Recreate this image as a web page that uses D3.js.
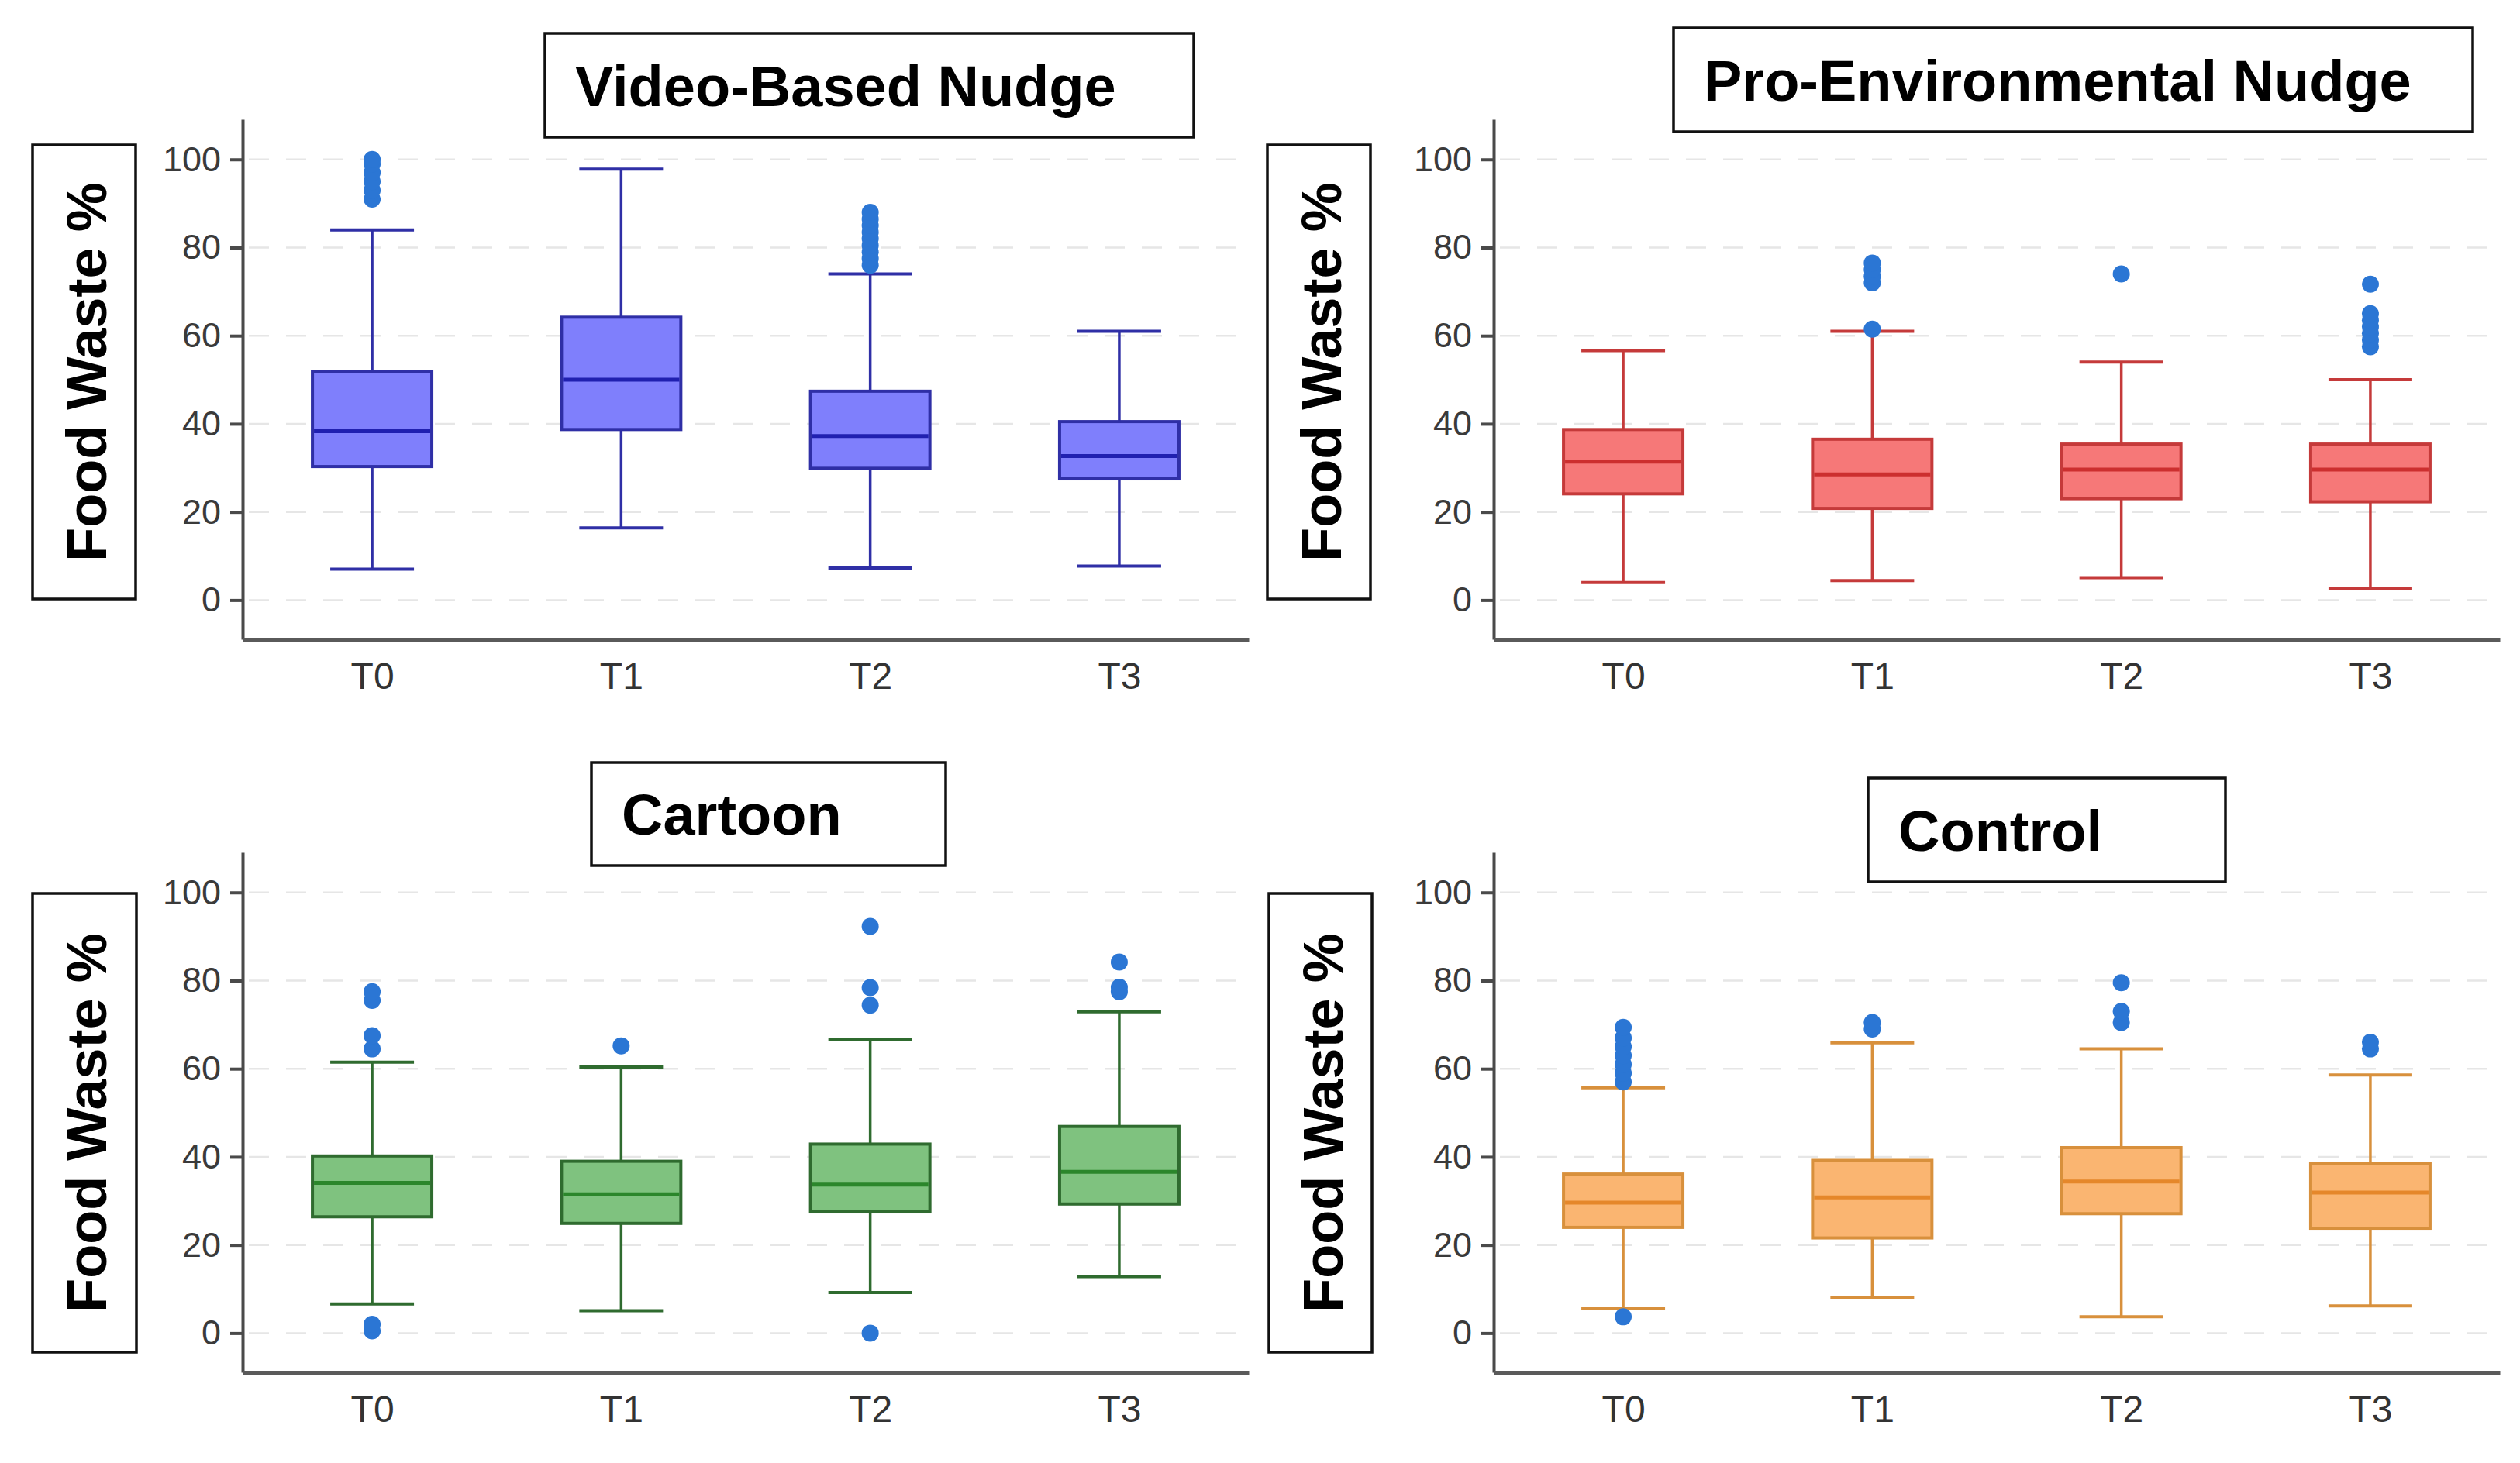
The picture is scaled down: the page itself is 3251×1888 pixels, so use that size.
<!DOCTYPE html>
<html>
<head>
<meta charset="utf-8">
<script src="https://cdn.jsdelivr.net/npm/d3@7"></script>
<style>
  body { margin: 0; background: #fff; }
  svg { display: block; }
</style>
</head>
<body>
<svg id="chart" width="3251" height="1888"></svg>
<script>
// Categories and ticks
var times = ["T0", "T1", "T2", "T3"];
var yTicks = [0, 20, 40, 60, 80, 100];
var titles = ["Video-Based Nudge", "Pro-Environmental Nudge", "Cartoon", "Control"];
var yLabel = "Food Waste %";

// Box stats per time: [lower whisker, Q1, median, Q3, upper whisker]
var videoBox = [[7, 30.3, 38.3, 51.8, 84], [16.4, 38.7, 50, 64.2, 97.8], [7.3, 29.9, 37.2, 47.4, 74], [7.7, 27.5, 32.7, 40.5, 61]];
var videoOut = [[91, 93, 95, 97, 99, 100], [], [76, 77.5, 79, 80.5, 82, 83.5, 85, 86.5, 88], []];

var proEnvBox = [[4, 24.1, 31.4, 38.7, 56.6], [4.4, 20.8, 28.5, 36.5, 61], [5.1, 23, 29.6, 35.4, 54], [2.6, 22.3, 29.6, 35.4, 50]];
var proEnvOut = [[], [61.5, 72, 73.5, 75, 76.5], [74], [57.5, 59, 60.5, 62, 63.5, 65, 71.7]];

var cartoonBox = [[6.6, 26.4, 34.1, 40.2, 61.5], [5.1, 24.9, 31.5, 39, 60.4], [9.2, 27.5, 33.7, 42.9, 66.7], [12.8, 29.3, 36.6, 46.9, 72.9]];
var cartoonOut = [[0.5, 2, 64.5, 67.5, 75.5, 77.5], [65.2], [0, 74.4, 78.4, 92.3], [77.5, 78.5, 84.2]];

var controlBox = [[5.5, 24, 29.6, 36.1, 55.7], [8.1, 21.6, 30.8, 39.2, 65.9], [3.7, 27.1, 34.4, 42.1, 64.5], [6.2, 23.8, 31.9, 38.5, 58.6]];
var controlOut = [[3.7, 57, 59, 61, 63, 65, 67, 69.4], [69, 70.5], [70.5, 73, 79.5], [64.5, 66]];

// Panel layout (pixels)
var panels = [
    { box: videoBox, out: videoOut, title: titles[0], fill: "#7f7ffc", stroke: "#2f2fa6", med: "#2020b0",
      ax: 313, ay: 154, titleBox: [703, 43, 837, 134], labelBox: [42, 187, 133, 586] },
    { box: proEnvBox, out: proEnvOut, title: titles[1], fill: "#f67878", stroke: "#c53a3a", med: "#cc2f2f",
      ax: 1927, ay: 154, titleBox: [2159, 36, 1031, 134], labelBox: [1635, 187, 133, 586] },
    { box: cartoonBox, out: cartoonOut, title: titles[2], fill: "#7fc27f", stroke: "#2f6b2f", med: "#2b862b",
      ax: 313, ay: 1100, titleBox: [763, 984, 457, 133], labelBox: [42, 1153, 134, 592] },
    { box: controlBox, out: controlOut, title: titles[3], fill: "#fab571", stroke: "#d8903c", med: "#e5872a",
      ax: 1927, ay: 1100, titleBox: [2410, 1004, 461, 134], labelBox: [1637, 1153, 133, 592] }
];

var plotW = 1298, plotH = 671;
var boxW = 154, capW = 108;
var outColor = "#2b76d4";

var svg = d3.select("#chart");

panels.forEach(function (p) {
    var g = svg.append("g").attr("transform", "translate(" + p.ax + "," + p.ay + ")");

    var x = d3.scalePoint().domain(times).range([0, plotW]).padding(0.52);
    var y = d3.scaleLinear().domain([-8.9, 109.1]).range([plotH, 0]);

    // Faint dashed gridlines
    g.append("g").selectAll("line").data(yTicks).join("line")
        .attr("x1", 8).attr("x2", plotW)
        .attr("y1", d => y(d)).attr("y2", d => y(d))
        .attr("stroke", "#e6e6e6").attr("stroke-width", 2.5)
        .attr("stroke-dasharray", "26,22");

    // Y axis (no outer ticks)
    var yAxis = g.append("g").call(d3.axisLeft(y).tickValues(yTicks).tickSizeInner(16).tickSizeOuter(0).tickPadding(12));
    yAxis.select(".domain").attr("stroke", "#4a4a4a").attr("stroke-width", 4);
    yAxis.selectAll(".tick line").attr("stroke", "#4a4a4a").attr("stroke-width", 4);
    yAxis.selectAll(".tick text").attr("fill", "#3a3a3a")
        .style("font", "45px 'Liberation Sans', Arial, sans-serif");

    // X axis
    var xAxis = g.append("g").attr("transform", "translate(0," + plotH + ")")
        .call(d3.axisBottom(x).tickSize(0).tickPadding(30));
    xAxis.select(".domain").attr("stroke", "#5a5a5a").attr("stroke-width", 5);
    xAxis.selectAll(".tick text").attr("fill", "#333")
        .style("font", "48px 'Liberation Sans', Arial, sans-serif");

    var stats = p.box.map(function (b, i) { return { t: times[i], b: b, out: p.out[i] }; });
    var grp = g.append("g").selectAll("g").data(stats).join("g");

    // Whiskers
    grp.append("line")
        .attr("x1", d => x(d.t)).attr("x2", d => x(d.t))
        .attr("y1", d => y(d.b[0])).attr("y2", d => y(d.b[1]))
        .attr("stroke", p.stroke).attr("stroke-width", 3.5);
    grp.append("line")
        .attr("x1", d => x(d.t)).attr("x2", d => x(d.t))
        .attr("y1", d => y(d.b[3])).attr("y2", d => y(d.b[4]))
        .attr("stroke", p.stroke).attr("stroke-width", 3.5);
    // Caps
    [0, 4].forEach(function (k) {
        grp.append("line")
            .attr("x1", d => x(d.t) - capW / 2).attr("x2", d => x(d.t) + capW / 2)
            .attr("y1", d => y(d.b[k])).attr("y2", d => y(d.b[k]))
            .attr("stroke", p.stroke).attr("stroke-width", 4);
    });

    // Box
    grp.append("rect")
        .attr("x", d => x(d.t) - boxW / 2).attr("width", boxW)
        .attr("y", d => y(d.b[3])).attr("height", d => y(d.b[1]) - y(d.b[3]))
        .attr("fill", p.fill).attr("stroke", p.stroke).attr("stroke-width", 4);

    // Median
    grp.append("line")
        .attr("x1", d => x(d.t) - boxW / 2 + 2).attr("x2", d => x(d.t) + boxW / 2 - 2)
        .attr("y1", d => y(d.b[2])).attr("y2", d => y(d.b[2]))
        .attr("stroke", p.med).attr("stroke-width", 5);

    // Outliers
    grp.selectAll("circle").data(d => d.out.map(v => ({ t: d.t, v: v }))).join("circle")
        .attr("cx", d => x(d.t)).attr("cy", d => y(d.v)).attr("r", 11)
        .attr("fill", outColor);

    // Title box
    var tb = p.titleBox;
    svg.append("rect").attr("x", tb[0]).attr("y", tb[1]).attr("width", tb[2]).attr("height", tb[3])
        .attr("fill", "#fff").attr("stroke", "#111").attr("stroke-width", 3.5);
    svg.append("text").attr("x", tb[0] + 39).attr("y", tb[1] + tb[3] * 0.7)
        .attr("fill", "#000")
        .style("font", "bold 74px 'Liberation Sans', Arial, sans-serif")
        .text(p.title);

    // Y label box
    var lb = p.labelBox;
    svg.append("rect").attr("x", lb[0]).attr("y", lb[1]).attr("width", lb[2]).attr("height", lb[3])
        .attr("fill", "#fff").attr("stroke", "#111").attr("stroke-width", 3.5);
    svg.append("text")
        .attr("transform", "translate(" + (lb[0] + 95) + "," + (lb[1] + lb[3] / 2) + ") rotate(-90)")
        .attr("text-anchor", "middle").attr("fill", "#000")
        .style("font", "bold 72px 'Liberation Sans', Arial, sans-serif")
        .text(yLabel);
});
</script>
</body>
</html>
